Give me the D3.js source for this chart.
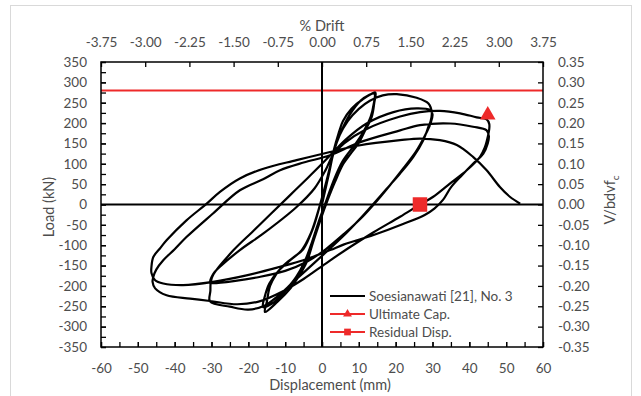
<!DOCTYPE html>
<html>
<head>
<meta charset="utf-8">
<script src="https://cdn.jsdelivr.net/npm/d3@7"></script>
<style>
  html, body { margin: 0; padding: 0; background: #fff; }
  svg { display: block; font-family: Lato, "Open Sans", sans-serif; }
</style>
</head>
<body>
<svg id="chart" width="641" height="396"></svg>
<script>
// Axis ticks
const dispTicks  = [-60, -50, -40, -30, -20, -10, 0, 10, 20, 30, 40, 50, 60];
const loadTicks  = [-350, -300, -250, -200, -150, -100, -50, 0, 50, 100, 150, 200, 250, 300, 350];
const driftTicks = [-3.75, -3.00, -2.25, -1.50, -0.75, 0.00, 0.75, 1.50, 2.25, 3.00, 3.75];
const ratioTicks = [-0.35, -0.30, -0.25, -0.20, -0.15, -0.10, -0.05, 0.00, 0.05, 0.10, 0.15, 0.20, 0.25, 0.30, 0.35];

// Load–displacement history, [displacement (mm), load (kN)], in test order
const cyclesSmall = [
  [0,0],[1,40],[2,80],[3.2,130],[5,175],[7.5,220],[10.5,255],[13,270],[14.5,275],
  [14.2,250],[13.5,215],[11.5,178],[9.9,150],[7.8,125],[5.8,100],[3.5,55],[1.5,10],[-0.5,-40],[-2.5,-95],[-4.1,-140],[-6,-172],[-8.5,-205],[-12,-238],[-15.5,-264],
  [-15,-240],[-14.1,-200],[-12.5,-172],[-10.5,-150],[-7.5,-128],[-5.1,-110],[-2.5,-60],[-0.5,0],[1.5,65],[3.1,130],[4.5,175],[5.7,205],[8,235],[11,258],[14.2,272],
  [14,245],[13.2,215],[11,175],[9,148],[5.5,105],[3,55],[1,5],[-1,-45],[-3,-100],[-4.8,-142],[-7,-178],[-10,-212],[-13,-240],[-16,-252]
];
const cyclesMid = [
  [-15.5,-225],[-14.3,-194],[-12,-165],[-9,-140],[-5.5,-112],[-3,-70],[-1,-15],[1,50],[2.8,115],[4.5,165],[7,205],[10,235],[13,255],[16.5,268],[20.3,271],[25.7,262],[28.9,248],[29.8,226],
  [29.5,205],[28.9,191],[27.5,158],[24.8,117],[21.2,76],[17.5,38],[14,2],[10,-38],[5.5,-80],[1,-118],[-3.5,-155],[-8,-192],[-12,-225],[-15.5,-248],[-20,-258],[-25,-251],[-30.4,-238],
  [-30.3,-212],[-30.2,-190],[-29.5,-172],[-24,-112],[-19,-68],[-14,-24],[-9,20],[-4,64],[0,100],[3,128],[6.5,160],[12.1,199],[19.4,227],[25.7,236],[29.3,232],[30,222],
  [29.5,200],[28,170],[25.5,130],[22,88],[18.5,48],[15,10],[11,-30],[6,-72],[1,-110],[-4,-140],[-10,-163],[-17,-178],[-24,-188],[-29.5,-193],[-30.3,-192]
];
const cyclesLarge = [
  [-29.5,-170],[-27.7,-153],[-22.3,-112],[-15.9,-71],[-6.9,-6],[-2,40],[1,85],[3,122],[6,150],[12,185],[21.2,216],[26.6,227],[32,230],[37.5,224],[42,214],[44.7,209],[45.4,198],
  [45.4,185],[45,166],[44.2,140],[42.9,117],[39.3,84],[34.8,52],[30.2,19],[26.6,0],[21.2,-30],[14,-68],[7,-108],[1,-145],[-5,-183],[-11,-215],[-17,-238],[-23,-245],[-30.4,-237],[-35.8,-231],[-42.2,-223],[-45.3,-206],[-46,-190],
  [-45.8,-178],[-45,-160],[-43.1,-137],[-40,-110],[-36.8,-80],[-29.6,-22],[-22.3,35],[-16,62],[-11.4,84],[-5,103],[2.2,121],[10,152],[21.2,182],[26.6,195],[34.8,199],[41,191],[44.7,182],[45.3,168],
  [45,150],[43.8,125],[41,100],[38,72],[35,42],[32.9,12],[30.5,-10],[28,-25],[22,-48],[14,-75],[6,-98],[2.2,-112],[-5.1,-137],[-11.4,-153],[-20.5,-174],[-29.6,-190],[-37.7,-198],[-43.1,-194],[-45.3,-186],[-46.3,-168]
];
const finalPush = [
  [-46.3,-153],[-45.8,-129],[-44,-108],[-42.2,-88],[-36.8,-39],[-31.3,2],[-27.7,31],[-22.3,64],[-15.9,88],[-6.9,109],[2.2,129],[10,145],[21.2,158],[26.6,162],[32,158],[36.6,146],[41,117],[44.7,84],[48.3,43],[51,19],[53.8,2]
];

// Reference points
const ultimateCap  = [[45, 220]];
const residualDisp = [[26.6, 0]];
const capacityLoad = 280;

const seriesNames = ["Soesianawati [21], No. 3", "Ultimate Cap.", "Residual Disp."];

const RED = "#ee2a2a";
const TXT = "#4d4d4d";

const svg = d3.select("#chart");
const plot = { left: 101, right: 543, top: 62, bottom: 347 };

const x = d3.scaleLinear().domain([-60, 60]).range([plot.left, plot.right]);
const y = d3.scaleLinear().domain([-350, 350]).range([plot.bottom, plot.top]);
const xTop = d3.scaleLinear().domain([-3.75, 3.75]).range([plot.left, plot.right]);
const yRight = d3.scaleLinear().domain([-0.35, 0.35]).range([plot.bottom, plot.top]);

// chart border
svg.append("rect")
  .attr("x", 10.5).attr("y", 5.5).attr("width", 621).attr("height", 400)
  .attr("fill", "#fff").attr("stroke", "#d9d9d9").attr("stroke-width", 1);

// capacity line
svg.append("line")
  .attr("x1", x(-60)).attr("x2", x(60))
  .attr("y1", y(capacityLoad)).attr("y2", y(capacityLoad))
  .attr("stroke", RED).attr("stroke-width", 2);

// zero lines
svg.append("line")
  .attr("x1", x(-60)).attr("x2", x(60)).attr("y1", y(0)).attr("y2", y(0))
  .attr("stroke", "#000").attr("stroke-width", 2);
svg.append("line")
  .attr("x1", x(0)).attr("x2", x(0)).attr("y1", y(-350)).attr("y2", y(350))
  .attr("stroke", "#000").attr("stroke-width", 2);

// hysteresis curve
const history = [].concat(cyclesSmall, cyclesMid, cyclesLarge, finalPush);
const line = d3.line()
  .x(d => x(d[0])).y(d => y(d[1]))
  .curve(d3.curveCatmullRom.alpha(0.5));
svg.append("path")
  .datum(history)
  .attr("d", line)
  .attr("fill", "none")
  .attr("stroke", "#000")
  .attr("stroke-width", 2.2)
  .attr("stroke-linejoin", "round");

// markers
svg.selectAll(".ult").data(ultimateCap).join("path")
  .attr("transform", d => `translate(${x(d[0])},${y(d[1])})`)
  .attr("d", d3.symbol(d3.symbolTriangle, 105))
  .attr("fill", RED);
svg.selectAll(".res").data(residualDisp).join("path")
  .attr("transform", d => `translate(${x(d[0])},${y(d[1])})`)
  .attr("d", d3.symbol(d3.symbolSquare, 210))
  .attr("fill", RED);

// plot frame
svg.append("rect")
  .attr("x", plot.left).attr("y", plot.top)
  .attr("width", plot.right - plot.left).attr("height", plot.bottom - plot.top)
  .attr("fill", "none").attr("stroke", "#000").attr("stroke-width", 1.5);

function styleAxis(g) {
  g.select(".domain").remove();
  g.selectAll(".tick line").attr("stroke", "#000").attr("stroke-width", 1.3);
  g.selectAll(".tick text").attr("fill", TXT).attr("font-size", 13.5)
    .attr("font-family", "Lato, 'Open Sans', sans-serif");
}

// minor ticks
svg.append("g").attr("transform", `translate(0,${plot.bottom})`)
  .call(d3.axisBottom(x).tickValues(d3.range(-60, 61, 5)).tickSizeInner(-5).tickSizeOuter(0).tickFormat(""))
  .call(styleAxis);
svg.append("g").attr("transform", `translate(${plot.left},0)`)
  .call(d3.axisLeft(y).tickValues(d3.range(-350, 351, 25)).tickSizeInner(-5).tickSizeOuter(0).tickFormat(""))
  .call(styleAxis);

// labelled axes
svg.append("g").attr("transform", `translate(0,${plot.bottom})`)
  .call(d3.axisBottom(x).tickValues(dispTicks).tickSizeInner(-5).tickSizeOuter(0)
    .tickPadding(16).tickFormat(d => String(d)))
  .call(styleAxis);
svg.append("g").attr("transform", `translate(${plot.left},0)`)
  .call(d3.axisLeft(y).tickValues(loadTicks).tickSizeInner(-5).tickSizeOuter(0)
    .tickPadding(14).tickFormat(d => String(d)))
  .call(styleAxis);
svg.append("g").attr("transform", `translate(0,${plot.top})`)
  .call(d3.axisTop(xTop).tickValues(driftTicks).tickSizeInner(-5).tickSizeOuter(0)
    .tickPadding(15).tickFormat(d => d.toFixed(2)))
  .call(styleAxis);
svg.append("g").attr("transform", `translate(${plot.right},0)`)
  .call(d3.axisRight(yRight).tickValues(ratioTicks).tickSizeInner(-5).tickSizeOuter(0)
    .tickPadding(15).tickFormat(d => d.toFixed(2)))
  .call(styleAxis);

// axis titles
svg.append("text").attr("x", 322).attr("y", 31).attr("text-anchor", "middle")
  .attr("fill", TXT).attr("font-size", 14.5).text("% Drift");
svg.append("text").attr("x", 330).attr("y", 390).attr("text-anchor", "middle")
  .attr("fill", TXT).attr("font-size", 14.5).text("Displacement (mm)");
svg.append("text").attr("transform", "translate(54,207) rotate(-90)")
  .attr("text-anchor", "middle").attr("fill", TXT).attr("font-size", 14.5).text("Load (kN)");
const rt = svg.append("text").attr("transform", "translate(615,200) rotate(-90)")
  .attr("text-anchor", "middle").attr("fill", TXT).attr("font-size", 14.5);
rt.append("tspan").text("V/bdvf");
rt.append("tspan").attr("dy", 4).attr("font-size", 10).text("c");

// legend
const legend = svg.append("g");
const rows = [
  { name: seriesNames[0], color: "#000", symbol: null },
  { name: seriesNames[1], color: RED, symbol: d3.symbol(d3.symbolTriangle, 34) },
  { name: seriesNames[2], color: RED, symbol: d3.symbol(d3.symbolSquare, 45) }
];
rows.forEach((r, i) => {
  const cy = 296 + i * 18;
  legend.append("line").attr("x1", 330).attr("x2", 365).attr("y1", cy).attr("y2", cy)
    .attr("stroke", r.color).attr("stroke-width", 2.2);
  if (r.symbol) {
    legend.append("path").attr("transform", `translate(347.5,${cy})`)
      .attr("d", r.symbol).attr("fill", r.color);
  }
  legend.append("text").attr("x", 369).attr("y", cy + 5)
    .attr("fill", TXT).attr("font-size", 13.5).text(r.name);
});
</script>
</body>
</html>
